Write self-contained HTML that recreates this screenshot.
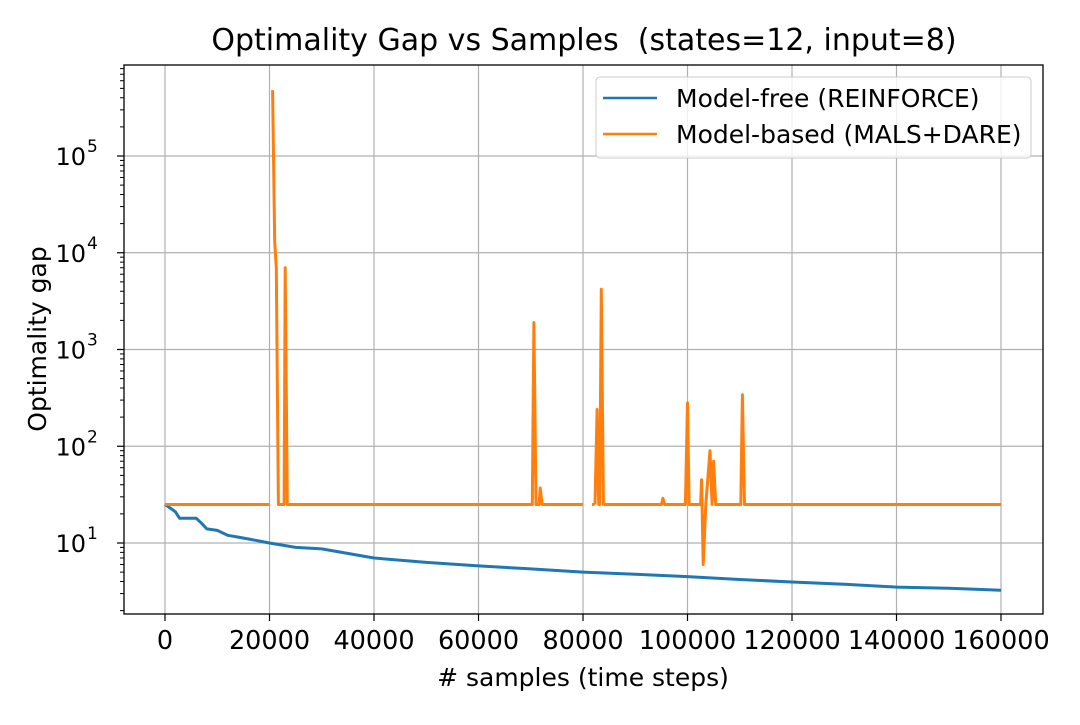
<!DOCTYPE html>
<html><head><meta charset="utf-8"><style>
body{margin:0;background:#fff;}
svg text{font-family:"DejaVu Sans","Liberation Sans",sans-serif;}
</style></head><body>
<svg id="chart" width="1080" height="720" xmlns="http://www.w3.org/2000/svg">
<rect width="1080" height="720" fill="#fff"/>
<text x="584" y="50" font-size="30" text-anchor="middle" xml:space="preserve">Optimality Gap vs Samples  (states=12, input=8)</text>
<g id="grid"></g><g id="series"></g><g id="axes"></g>
<text x="583" y="686" font-size="25" text-anchor="middle"># samples (time steps)</text>
<text transform="translate(46,339) rotate(-90)" font-size="25" text-anchor="middle">Optimality gap</text>
<g>
<rect x="596" y="77" width="435" height="81" rx="4" fill="#fff" fill-opacity="0.8" stroke="#ccc"/>
<line x1="603" y1="98" x2="657" y2="98" stroke="#1f77b4" stroke-width="2.5"/>
<text x="676" y="107" font-size="25">Model-free (REINFORCE)</text>
<line x1="603" y1="134" x2="657" y2="134" stroke="#ff7f0e" stroke-width="2.5"/>
<text x="676" y="143" font-size="25">Model-based (MALS+DARE)</text>
</g>
</svg>
<script>
const xTicks=[0,20000,40000,60000,80000,100000,120000,140000,160000];
const yDecades=[1,2,3,4,5];
const blueX=[0,1000,2000,2800,6000,7000,8000,10000,12000,14000,16000,20000,25000,30000,40000,50000,60000,70000,80000,90000,100000,110000,120000,130000,140000,150000,160000];
const blueY=[25,23,21,18,18,16,14,13.5,12,11.5,11,10,9,8.7,7,6.3,5.8,5.4,5.0,4.75,4.5,4.2,3.95,3.75,3.5,3.4,3.25];
const orangeX=[0,20000,20100,20600,21000,21300,21700,22800,23000,23400,70300,70600,71000,71600,71800,72200,80000,80100,81700,82200,82300,82300,82700,83000,83200,83500,83900,95000,95300,95600,99600,100000,100300,102500,102700,103000,103500,104300,104700,105000,105400,110200,110500,110900,160000];
const orangeY=[25,25,null,480000,13000,7000,25,25,7000,25,25,1900,25,25,37,25,25,null,25,25,null,25,240,25,25,4200,25,25,29,25,25,280,25,25,45,6,25,90,25,70,25,25,340,25,25];
const L=124,R=1043,T=65,B=614,X0=165,X1=1001;
const xs=v=>X0+(X1-X0)*v/160000;
const ys=v=>543-(Math.log10(v)-1)*96.75;
const NS='http://www.w3.org/2000/svg';
function mk(tag,attrs,parent){const e=document.createElementNS(NS,tag);for(const k in attrs)e.setAttribute(k,attrs[k]);parent.appendChild(e);return e;}
const grid=document.getElementById('grid'),axes=document.getElementById('axes'),ser=document.getElementById('series');
xTicks.forEach(t=>{const x=xs(t);
 const g=mk('line',{x1:x,x2:x,y1:T,y2:B,stroke:'#b0b0b0','stroke-width':1.2},grid);
 
 
 mk('line',{x1:x,x2:x,y1:B,y2:B+7,stroke:'#000','stroke-width':1.2},axes);
 const tx=mk('text',{x:x,y:B+35,'font-size':25.5,'text-anchor':'middle'},axes);tx.textContent=t;
 
 
});
yDecades.forEach(d=>{const y=ys(Math.pow(10,d));
 const g=mk('line',{x1:L,x2:R,y1:y,y2:y,stroke:'#b0b0b0','stroke-width':1.2},grid);
 
 
 mk('line',{x1:L-7,x2:L,y1:y,y2:y,stroke:'#000','stroke-width':1.2},axes);
 const tx=mk('text',{x:L-38,y:y+9,'font-size':24,'text-anchor':'end'},axes);
 
 
 tx.textContent='10';
 const sp=mk('text',{x:L-37,y:y-4,'font-size':17,'text-anchor':'start'},axes);
 sp.textContent=d;
});
for(let d=0;d<=5;d++)for(let m=2;m<=9;m++){const y=ys(m*Math.pow(10,d));if(y<T||y>B)continue;
 mk('line',{x1:L-4,x2:L,y1:y,y2:y,stroke:'#000','stroke-width':1},axes);}
mk('rect',{x:L,y:T,width:R-L,height:B-T,fill:'none',stroke:'#000','stroke-width':1.3},axes);
function path(X,Y){let d='',pen=false;for(let i=0;i<X.length;i++){if(Y[i]==null){pen=false;continue;}d+=(pen?'L':'M')+xs(X[i]).toFixed(1)+','+ys(Y[i]).toFixed(1);pen=true;}return d;}
const pb=mk('path',{d:path(blueX,blueY),fill:'none',stroke:'#1f77b4','stroke-width':3,'stroke-linejoin':'round'},ser);


const po=mk('path',{d:path(orangeX,orangeY),fill:'none',stroke:'#ff7f0e','stroke-width':3,'stroke-linejoin':'round'},ser);


</script>
</body></html>
